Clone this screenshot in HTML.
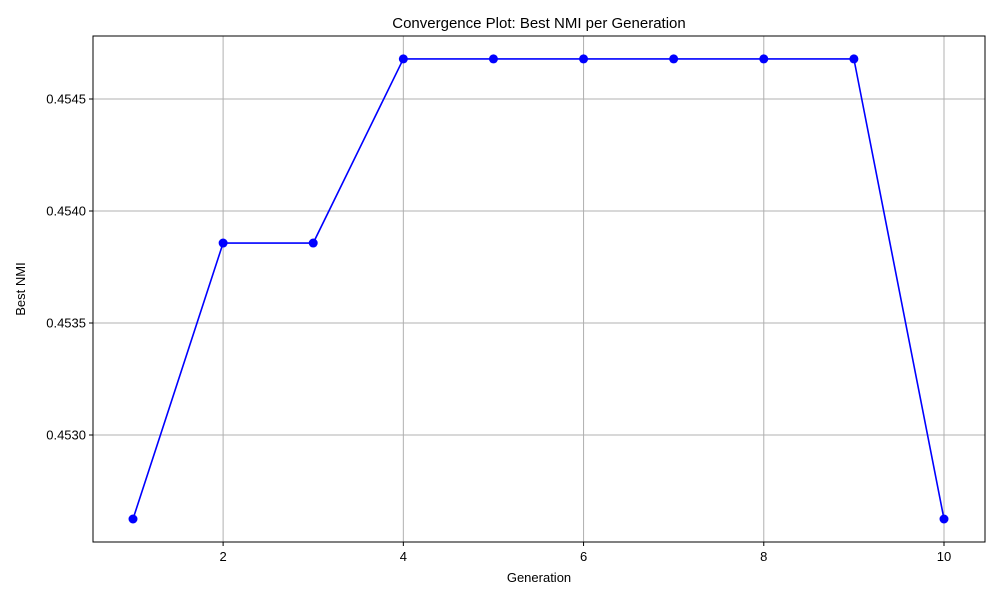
<!DOCTYPE html>
<html><head><meta charset="utf-8"><style>
body{margin:0;background:#fff;font-family:"Liberation Sans","DejaVu Sans",sans-serif}
</style></head><body>
<svg id="chart" width="1000" height="600" xmlns="http://www.w3.org/2000/svg">
<rect width="1000" height="600" fill="#fff"/>
<text x="539" y="28" font-size="15" text-anchor="middle">Convergence Plot: Best NMI per Generation</text>
<g id="grid"></g>
<g id="ticks"></g>
<g id="series"></g>
<rect x="93" y="36" width="892" height="506" fill="none" stroke="#000" stroke-width="1"/>
<text x="539" y="582" font-size="13" text-anchor="middle">Generation</text>
<text x="25" y="289" font-size="13" text-anchor="middle" transform="rotate(-90 25 289)">Best NMI</text>
</svg>
<script>
const generations=[1,2,3,4,5,6,7,8,9,10];
const bestNmi=[0.452625,0.453857,0.453857,0.454679,0.454679,0.454679,0.454679,0.454679,0.454679,0.452625];
const xTicks=[2,4,6,8,10];
const yTicks=[0.4530,0.4535,0.4540,0.4545];
const yTickLabels=["0.4530","0.4535","0.4540","0.4545"];
const NS="http://www.w3.org/2000/svg";
function xs(v){return 133+(v-1)*(944-133)/9;}
function ys(v){return 435-(v-0.4530)*(112/0.0005);}
function mk(t,a,p){const e=document.createElementNS(NS,t);for(const k in a)e.setAttribute(k,a[k]);p.appendChild(e);return e;}
const grid=document.getElementById('grid'),ticks=document.getElementById('ticks'),ser=document.getElementById('series');
xTicks.forEach(v=>{const x=xs(v);
const g=mk('line',{x1:x,x2:x,y1:36,y2:542,stroke:'#b0b0b0','stroke-width':1},grid);


mk('line',{x1:x,x2:x,y1:542,y2:546,stroke:'#000'},ticks);
const t=mk('text',{x:x,y:561,'font-size':13,'text-anchor':'middle'},ticks);t.textContent=v;

});
yTicks.forEach((v,i)=>{const y=ys(v);
const g=mk('line',{x1:93,x2:985,y1:y,y2:y,stroke:'#b0b0b0','stroke-width':1},grid);


mk('line',{x1:89,x2:93,y1:y,y2:y,stroke:'#000'},ticks);
const t=mk('text',{x:86,y:y+4.5,'font-size':13,'text-anchor':'end'},ticks);t.textContent=yTickLabels[i];

});
const pts=generations.map((g,i)=>xs(g)+','+ys(bestNmi[i])).join(' ');
const pl=mk('polyline',{points:pts,fill:'none',stroke:'#0000ff','stroke-width':1.6},ser);


generations.forEach((g,i)=>{const c=mk('circle',{cx:xs(g),cy:ys(bestNmi[i]),r:4.5,fill:'#0000ff'},ser);

});
</script>
</body></html>
